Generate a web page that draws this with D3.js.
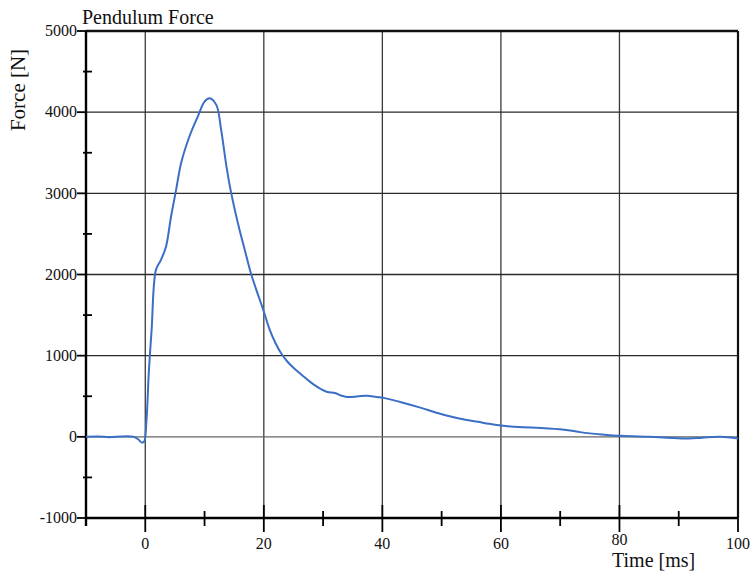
<!DOCTYPE html>
<html>
<head>
<meta charset="utf-8">
<script src="https://cdn.jsdelivr.net/npm/d3@7"></script>
<style>
  html, body { margin: 0; padding: 0; background: #fff; }
  svg { display: block; }
  text { font-family: "Liberation Serif", "Times New Roman", serif; fill: #111; }
</style>
</head>
<body>
<svg id="chart" width="752" height="575"></svg>
<script>
// ---- data ----
const timeMs = [-10, -8, -6, -4, -2, -1.2, -0.6, -0.2, 0.2, 0.6, 1.07, 1.8, 2.65, 3.5, 4.35, 5.2, 6.05, 7.45, 8.86, 10.0, 10.85, 11.98, 12.8, 13.7, 14.5, 15.9, 16.8, 17.9, 19.9, 21.0, 22.0, 23.0, 24.0, 25.0, 26.6, 28.5, 30.6, 32.0, 33.0, 34.0, 36.0, 37.4, 39.0, 40.2, 43.0, 46.4, 49.0, 51.5, 54.0, 56.1, 58.0, 60.0, 63.0, 66.8, 70.7, 73.6, 77.0, 80.3, 85.0, 88.0, 91.7, 94.0, 97.0, 100];
const forceN = [0, 5, -5, 5, 0, -30, -70, -60, 200, 800, 1318, 2057, 2180, 2345, 2714, 3043, 3375, 3700, 3946, 4130, 4172, 4090, 3782, 3330, 3002, 2550, 2300, 1996, 1565, 1318, 1150, 1020, 925, 850, 750, 640, 555, 540, 510, 490, 500, 505, 490, 480, 430, 360, 300, 250, 210, 185, 160, 140, 120, 110, 88, 55, 30, 12, 0, -10, -20, -10, 0, -20];
const xMajorTicks = [0, 20, 40, 60, 80, 100];
const xMinorTicks = [10, 30, 50, 70, 90];
const yMajorTicks = [-1000, 0, 1000, 2000, 3000, 4000, 5000];
const yMinorTicks = [-500, 500, 1500, 2500, 3500, 4500];
const xGrid = [0, 20, 40, 60, 80];
const yGrid = [0, 1000, 2000, 3000, 4000];
const titleText = "Pendulum Force";
const xLabel = "Time [ms]";
const yLabel = "Force [N]";

const svg = d3.select("#chart");
const x = d3.scaleLinear().domain([-10, 100]).range([86, 738]);
const y = d3.scaleLinear().domain([-1000, 5000]).range([518, 31]);
const [x0, x1] = x.range();
const [yb, yt] = y.range();

// grid
svg.append("g").selectAll("line").data(xGrid).join("line")
  .attr("x1", d => x(d)).attr("x2", d => x(d))
  .attr("y1", yt).attr("y2", yb)
  .attr("stroke", "#3a3a3a").attr("stroke-width", 1.3);
svg.append("g").selectAll("line").data(yGrid).join("line")
  .attr("x1", x0).attr("x2", x1)
  .attr("y1", d => y(d)).attr("y2", d => y(d))
  .attr("stroke", d => d === 0 ? "#666" : "#2a2a2a").attr("stroke-width", 1.3);

// frame: top & right borders
svg.append("line").attr("x1", x0).attr("x2", x1).attr("y1", yt).attr("y2", yt)
  .attr("stroke", "#111").attr("stroke-width", 2.4);
svg.append("line").attr("x1", x1).attr("x2", x1).attr("y1", yt).attr("y2", yb)
  .attr("stroke", "#111").attr("stroke-width", 2.2);

// left axis
const gy = svg.append("g");
gy.append("line").attr("x1", x0).attr("x2", x0).attr("y1", yt).attr("y2", yb + 8)
  .attr("stroke", "#000").attr("stroke-width", 2.4);
gy.selectAll(".maj").data(yMajorTicks).join("line")
  .attr("x1", x0 - 9).attr("x2", x0)
  .attr("y1", d => y(d)).attr("y2", d => y(d))
  .attr("stroke", "#000").attr("stroke-width", 1.8);
gy.selectAll(".min").data(yMinorTicks).join("line")
  .attr("x1", x0 - 3).attr("x2", x0 + 6)
  .attr("y1", d => y(d)).attr("y2", d => y(d))
  .attr("stroke", "#000").attr("stroke-width", 1.8);
gy.selectAll("text").data(yMajorTicks).join("text")
  .attr("x", x0 - 9).attr("y", d => y(d)).attr("dy", "0.33em")
  .attr("text-anchor", "end").attr("font-size", 16)
  .text(d => d);

// bottom axis
const gx = svg.append("g");
gx.append("line").attr("x1", x0).attr("x2", x1).attr("y1", yb).attr("y2", yb)
  .attr("stroke", "#000").attr("stroke-width", 2.4);
gx.selectAll(".maj").data(xMajorTicks).join("line")
  .attr("x1", d => x(d)).attr("x2", d => x(d))
  .attr("y1", d => d === 100 ? yb : yb - 13).attr("y2", yb + 14)
  .attr("stroke", "#000").attr("stroke-width", 1.8);
gx.selectAll(".min").data(xMinorTicks).join("line")
  .attr("x1", d => x(d)).attr("x2", d => x(d))
  .attr("y1", yb - 7).attr("y2", yb + 8)
  .attr("stroke", "#000").attr("stroke-width", 1.8);
gx.selectAll("text").data(xMajorTicks).join("text")
  .attr("x", d => x(d)).attr("y", d => d === 80 ? 545 : 549)
  .attr("text-anchor", "middle").attr("font-size", 16)
  .text(d => d);

// curve
const pts = timeMs.map((t, i) => [t, forceN[i]]);
svg.append("path").datum(pts)
  .attr("fill", "none").attr("stroke", "#3b6fc6").attr("stroke-width", 2)
  .attr("stroke-linejoin", "round")
  .attr("d", d3.line().x(d => x(d[0])).y(d => y(d[1])).curve(d3.curveCatmullRom.alpha(0.5)));

// titles
svg.append("text").attr("x", 82).attr("y", 24).attr("font-size", 20).text(titleText);
svg.append("text").attr("x", 612).attr("y", 567).attr("font-size", 20).text(xLabel);
svg.append("text").attr("transform", "translate(25,90) rotate(-90)")
  .attr("text-anchor", "middle").attr("font-size", 21).text(yLabel);
</script>
</body>
</html>
